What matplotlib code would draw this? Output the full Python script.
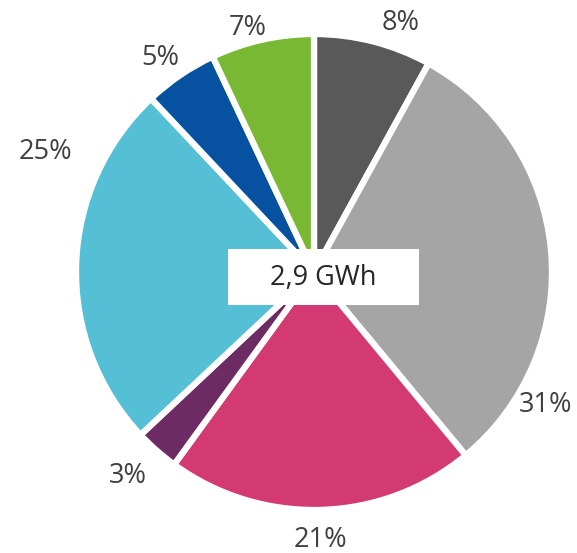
import matplotlib
matplotlib.use("Agg")
import matplotlib.pyplot as plt
from matplotlib.patches import Rectangle

values = [8, 31, 21, 3, 25, 5, 7]
labels = ["8%", "31%", "21%", "3%", "25%", "5%", "7%"]
colors = ["#595959", "#A5A5A5", "#D33A71", "#6C2C63", "#55BFD6", "#0652A0", "#78B833"]
label_pos = [(0.366, 1.046), (0.971, -0.559), (0.025, -1.126), (-0.782, -0.857),
             (-1.130, 0.504), (-0.647, 0.899), (-0.277, 1.025)]
center_text = "2,9 GWh"

W, H = 577, 553
fig = plt.figure(figsize=(W / 100, H / 100), dpi=100)
cx, cy, r = 314, 272, 238
ax = fig.add_axes([(cx - r) / W, (H - cy - r) / H, 2 * r / W, 2 * r / H])
ax.pie(values, colors=colors, startangle=90, counterclock=False, radius=1,
       wedgeprops=dict(edgecolor="white", linewidth=4.5))
ax.set_xlim(-1, 1)
ax.set_ylim(-1, 1)
ax.set_aspect("equal")
ax.axis("off")

for lab, (x, y) in zip(labels, label_pos):
    ax.text(x, y, lab, ha="center", va="center", fontsize=19.5,
            color="#404040", family="Open Sans", clip_on=False)

x0 = (228 - cx) / r
x1 = (419 - cx) / r
y0 = (cy - 305) / r
y1 = (cy - 249) / r
ax.add_patch(Rectangle((x0, y0), x1 - x0, y1 - y0, facecolor="white", edgecolor="none", zorder=5))
ax.text((323 - cx) / r, (cy - 278) / r, center_text, ha="center", va="center",
        fontsize=19.5, color="#262626", family="Open Sans", zorder=6)

fig.savefig("out.png", dpi=100)
